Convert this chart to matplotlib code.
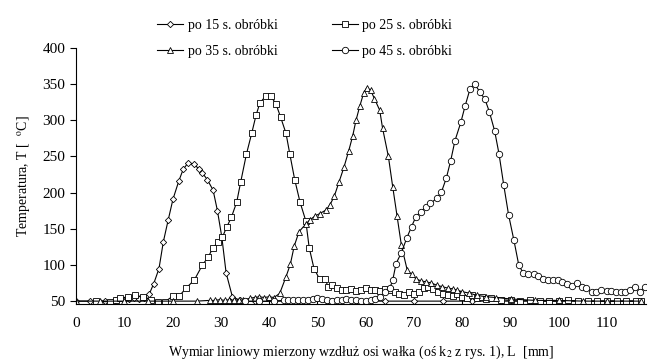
import numpy as np
import matplotlib.pyplot as plt

plt.rcParams['font.family'] = ['Liberation Serif', 'DejaVu Serif']
plt.rcParams['mathtext.fontset'] = 'stix'
plt.rcParams['font.size'] = 10

# po 15 s. obrobki (romby)
x15 = [0, 3, 6, 8, 10, 11, 12, 13, 14, 15.2, 16.1, 17.2, 18.1, 19.1, 20.1, 21.3, 22.2, 23.2,
       24.5, 25.5, 26.2, 27.2, 28.4, 29.3, 30.2, 31.1, 32.4, 34, 37, 41, 46, 52, 58, 64, 70,
       76, 82, 88, 94, 100, 106, 112, 117]
t15 = [50, 50, 50, 51, 52, 53, 54, 53, 55, 60, 74, 95, 132, 162, 191, 216, 232, 241,
       239.5, 232, 227, 218, 203.5, 175, 139, 89, 56, 51, 50, 50, 50, 50, 50, 50, 50,
       50, 50, 50, 50, 50, 50, 50, 50]

# po 25 s. obrobki (kwadraty)
x25 = [4.1, 7.0, 8.2, 9.1, 10.8, 12.2, 13.9, 15.5, 17.0, 18.4, 20.1, 21.4, 22.8, 24.5, 26.2,
       27.4, 28.4, 29.5, 30.3, 31.2, 32.2, 33.3, 34.1, 35.3, 36.4, 37.3, 38.1, 39.3, 40.3,
       41.4, 42.4, 43.5, 44.3, 45.3, 46.4, 47.6, 48.3, 49.3, 50.5, 51.6, 52.2, 53, 54, 55,
       56, 57, 58, 59, 60, 61, 62, 63, 64, 65, 66, 67, 68, 69, 70, 71, 72, 73, 74, 75, 76,
       77, 78, 79, 80, 81, 82, 83, 84, 85, 86, 88, 90, 92, 94, 96, 98, 100, 102, 104, 106,
       108, 110, 112, 114, 116, 117]
t25 = [50, 49, 51, 54, 56, 58, 56, 52, 49, 49, 57, 57, 68, 79, 100,
       111, 124, 132, 138, 152, 166, 187, 214, 253, 282, 307, 324, 333.5, 333.5,
       323, 304, 282, 253, 218, 187, 161, 124, 95, 80, 81, 70, 72, 68, 66,
       65, 67, 64, 66, 68, 65, 66, 64, 67, 65, 62, 60, 58, 62, 60, 63, 68, 70, 67, 62, 60,
       58, 57, 60, 56, 55, 58, 54, 56, 53, 54, 52, 51, 50, 51, 50, 50, 50, 51, 50, 50,
       50, 50, 50, 50, 50, 50]

# po 35 s. obrobki (trojkaty)
x35 = [0, 5, 10, 15, 20, 25, 27.7, 28.8, 29.8, 30.8, 31.8, 32.8, 33.8, 34.6, 36, 37, 38, 39,
       40, 41, 42.2, 43.5, 44.4, 45.2, 46.2, 47.6, 48.4, 49.5, 50.5, 51.8, 52.6, 53.5, 54.5,
       55.5, 56.5, 57.3, 58, 58.8, 59.6, 60.2, 61, 61.8, 62.9, 63.5, 64.7, 65.6, 66.5, 67.4,
       68.6, 69.5, 70.4, 71.4, 72.5, 73.6, 74.7, 75.8, 77, 78, 79, 80, 81.5, 83, 85, 87, 90,
       95, 100, 105, 110, 117]
t35 = [50, 50, 50, 50, 50, 50, 51, 51, 52, 51, 52, 51, 52, 51, 54, 55, 56, 55,
       56, 55, 60.6, 83.6, 101, 126, 146, 156.5, 162, 167.6, 171, 176, 183, 195, 215,
       235, 258, 278, 300, 320, 338, 344.6, 342, 330, 314, 289, 250, 208, 167.6, 127,
       93, 87, 81, 78, 76.7, 75, 72, 70, 68, 67, 65, 63, 61, 58, 56, 55, 53,
       51, 51, 50, 50, 50]

# po 45 s. obrobki (kola)
x45 = [35, 38, 41, 43, 44, 45, 46, 47, 48, 49, 50, 51, 52, 53, 54, 55, 56, 57, 58, 59, 60,
       61, 62, 63, 64, 65, 65.6, 66.3, 67.4, 68.5, 69.5, 70.4, 71.4, 72.5, 73.4, 74.7, 75.7,
       76.7, 77.6, 78.5, 79.7, 80.6, 81.6, 82.6, 83.6, 84.7, 85.6, 86.7, 87.6, 88.6, 89.6,
       90.7, 91.7, 92.6, 93.6, 94.8, 95.7, 96.8, 97.8, 98.8, 99.8, 100.7, 101.7, 102.8,
       103.8, 104.7, 105.7, 106.8, 107.8, 108.8, 109.9, 110.9, 111.9, 112.9, 113.8, 114.7,
       115.7, 116.9, 117.9]
t45 = [50, 50, 50, 51, 51, 51, 52, 51, 52, 53, 55, 53, 51, 50, 51, 52, 53, 52, 51, 50, 50,
       51, 53, 56, 62, 68, 79, 102, 117, 137, 153, 166.6, 173.5, 180, 185, 192, 201,
       220, 244, 272, 297, 320, 343, 350, 339.5, 329, 312, 285.5, 254, 210, 169,
       134, 100, 89, 87, 87, 84.6, 81, 79, 79, 79, 77, 73.5, 70.7,
       75, 69, 67.6, 63, 63, 66, 64, 64, 63, 63, 63, 66,
       69, 63, 69]

labels = ['po 15 s. obróbki', 'po 25 s. obróbki', 'po 35 s. obróbki', 'po 45 s. obróbki']

fig = plt.figure(figsize=(6.49, 3.63), dpi=100)
ax = fig.add_axes([0.117, 0.1625, 0.878, 0.7055])

st = dict(color='black', lw=0.8, mfc='white', mec='black', mew=0.6)
l15, = ax.plot(x15, t15, marker='D', ms=3.2, **st)
l25, = ax.plot(x25, t25, marker='s', ms=4.6, **st)
l35, = ax.plot(x35, t35, marker='^', ms=4.3, **st)
l45, = ax.plot(x45, t45, marker='o', ms=4.6, **st)

ax.set_xlim(0, 118)
ax.set_ylim(46, 400)
ax.set_xticks(np.arange(0, 111, 10))
ax.set_yticks(np.arange(50, 401, 50))
ax.spines['top'].set_visible(False)
ax.spines['right'].set_visible(False)
ax.spines['left'].set_linewidth(0.8)
ax.spines['bottom'].set_linewidth(0.8)
ax.tick_params(axis='x', direction='in', length=3, pad=9, labelsize=11)
ax.tick_params(axis='y', direction='out', length=4, labelsize=11)

ax.set_xlabel('Wymiar liniowy mierzony wzdłuż osi wałka (oś k$_2$ z rys. 1), L  [mm]',
              fontsize=10, labelpad=10)
ax.set_ylabel('Temperatura, T [  $^{\\mathrm{o}}$C]', fontsize=10, labelpad=8)

fig.legend([l15, l35, l25, l45], [labels[0], labels[2], labels[1], labels[3]],
           ncol=2, loc='upper left', bbox_to_anchor=(150 / 649, 1 - 12 / 363),
           frameon=False, borderpad=0, handlelength=1.9, handletextpad=0.3,
           columnspacing=3.9, labelspacing=0.95, fontsize=10)

fig.savefig('out.png', dpi=100)
